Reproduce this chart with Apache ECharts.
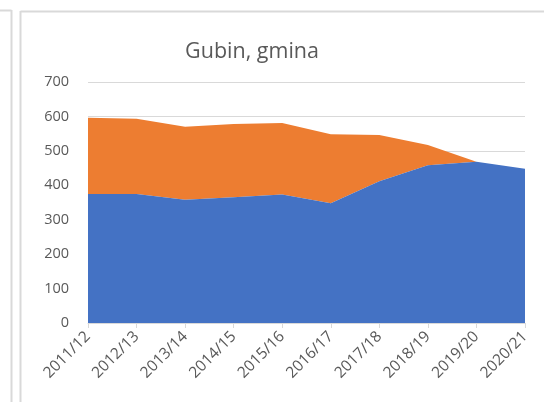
<!DOCTYPE html>
<html>
<head>
<meta charset="utf-8">
<script src="https://cdn.jsdelivr.net/npm/echarts@6/dist/echarts.min.js"></script>
<style>
  html, body { margin: 0; padding: 0; background: #fff; }
  #main { width: 544px; height: 402px; }
</style>
</head>
<body>
<div id="main"></div>
<script>
// lata szkolne
const years = ['2011/12', '2012/13', '2013/14', '2014/15', '2015/16',
  '2016/17', '2017/18', '2018/19', '2019/20', '2020/21'];
// dolna seria (niebieska)
const blueValues = [375, 375, 358, 365, 373, 348, 412, 458, 468, 448];
// górna seria (pomarańczowa), nakładana na niebieską
const orangeValues = [221, 218, 212, 213, 208, 200, 134, 59, 0, 0];
const yTicks = [0, 100, 200, 300, 400, 500, 600, 700];

const font = '"Open Sans", "Noto Sans", sans-serif';
const chart = echarts.init(document.getElementById('main'), null, {renderer: 'canvas'});

chart.setOption({
  backgroundColor: '#fff',
  animation: false,
  title: {
    text: 'Gubin, gmina',
    left: 247,
    top: 36,
    textAlign: 'center',
    textStyle: {
      fontFamily: font,
      fontSize: 21.5,
      fontWeight: 'normal',
      color: '#595959'
    }
  },
  // ramki obok wykresu
  graphic: [
    {type: 'line', shape: {x1: 0, y1: 10.5, x2: 11.5, y2: 10.5}, style: {stroke: '#d9d9d9', lineWidth: 2}},
    {type: 'line', shape: {x1: 11.5, y1: 10, x2: 11.5, y2: 402}, style: {stroke: '#d9d9d9', lineWidth: 2}},
    {type: 'line', shape: {x1: 20.5, y1: 11.5, x2: 544, y2: 11.5}, style: {stroke: '#d9d9d9', lineWidth: 2}},
    {type: 'line', shape: {x1: 20.5, y1: 11, x2: 20.5, y2: 402}, style: {stroke: '#d9d9d9', lineWidth: 2}}
  ],
  grid: {
    left: 88,
    right: 19,
    top: 82,
    bottom: 79
  },
  xAxis: {
    type: 'category',
    boundaryGap: false,
    data: years,
    axisLine: {lineStyle: {color: '#d9d9d9', width: 1}},
    axisTick: {show: true, length: 5, alignWithLabel: true, lineStyle: {color: '#d9d9d9'}},
    axisLabel: {
      rotate: 45,
      interval: 0,
      margin: 11,
      fontFamily: font,
      fontSize: 15.5,
      color: '#595959'
    },
    splitLine: {show: false}
  },
  yAxis: {
    type: 'value',
    min: 0,
    max: 700,
    interval: 100,
    axisLine: {show: false},
    axisTick: {show: false},
    axisLabel: {
      margin: 19,
      fontFamily: font,
      fontSize: 14.5,
      color: '#595959',
      formatter: v => yTicks.includes(v) ? String(v) : ''
    },
    splitLine: {lineStyle: {color: '#d9d9d9', width: 1}}
  },
  series: [
    {
      name: 'seria1',
      type: 'line',
      stack: 'total',
      data: blueValues,
      symbol: 'none',
      lineStyle: {width: 0},
      areaStyle: {color: '#4472c4', opacity: 1},
      z: 3
    },
    {
      name: 'seria2',
      type: 'line',
      stack: 'total',
      data: orangeValues,
      symbol: 'none',
      lineStyle: {width: 0},
      areaStyle: {color: '#ed7d31', opacity: 1},
      z: 2
    }
  ]
});
</script>
</body>
</html>
